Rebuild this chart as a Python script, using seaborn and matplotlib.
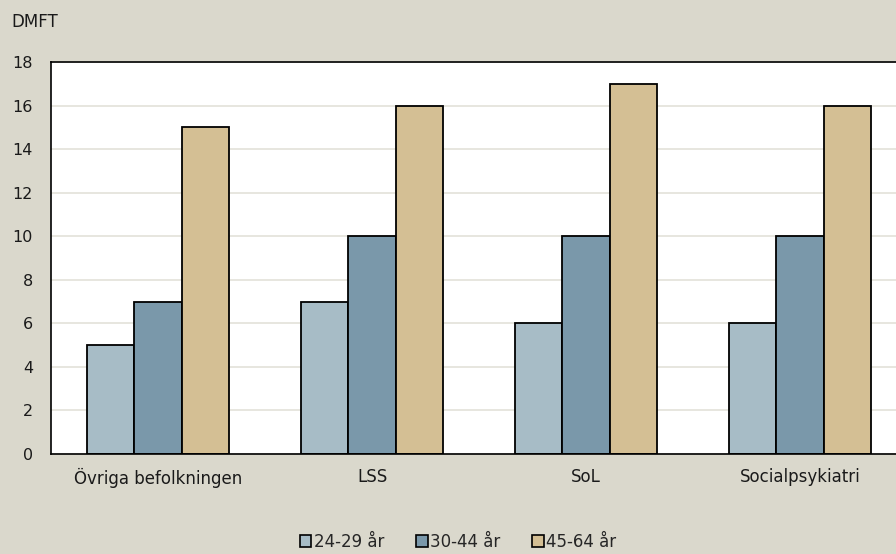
import matplotlib
matplotlib.use("Agg")
import matplotlib.pyplot as plt
from matplotlib.patches import Patch
import pandas as pd
import seaborn as sns

groups = ["Övriga befolkningen", "LSS", "SoL", "Socialpsykiatri"]
age_classes = ["24-29 år", "30-44 år", "45-64 år"]
dmft_24_29 = [5, 7, 6, 6]
dmft_30_44 = [7, 10, 10, 10]
dmft_45_64 = [15, 16, 17, 16]
y_ticks = [0, 2, 4, 6, 8, 10, 12, 14, 16, 18]

colors = ["#A7BCC6", "#7A98AA", "#D4BF94"]
bg = "#DAD8CC"

rows = []
for series, name in zip([dmft_24_29, dmft_30_44, dmft_45_64], age_classes):
    for g, v in zip(groups, series):
        rows.append({"grupp": g, "ålder": name, "DMFT": v})
df = pd.DataFrame(rows)

sns.set_theme(style="white")
plt.rcParams["font.family"] = ["DejaVu Sans"]

fig = plt.figure(figsize=(8.96, 5.54), dpi=100, facecolor=bg)
ax = fig.add_axes([51 / 896, 100 / 554, 856 / 896, 392 / 554])
ax.set_facecolor("white")

sns.barplot(data=df, x="grupp", y="DMFT", hue="ålder", order=groups,
            hue_order=age_classes, palette=colors, width=0.664, gap=0,
            edgecolor="black", linewidth=1.3, saturation=1, legend=False, ax=ax)

ax.set_xlim(-0.5, 3.5)
ax.set_ylim(0, 18)
ax.set_yticks(y_ticks)
ax.set_yticklabels([str(t) for t in y_ticks])
ax.yaxis.grid(True, color="#E3E1D9", linewidth=1.2)
ax.set_axisbelow(True)
ax.set_xlabel("")
ax.set_ylabel("")

for side in ["left", "bottom", "top", "right"]:
    ax.spines[side].set_color("black")
    ax.spines[side].set_linewidth(1.2)

ax.tick_params(axis="y", length=0, pad=13, labelsize=11.5, colors="#1a1a1a")
ax.tick_params(axis="x", which="major", length=0, pad=10, labelsize=12,
               colors="#1a1a1a")
ax.set_xticks([0.5, 1.5, 2.5], minor=True)
ax.tick_params(axis="x", which="minor", direction="in", length=4,
               width=1, color="#808080")

fig.text(11 / 896, 1 - 22 / 554, "DMFT", fontsize=12, color="#1a1a1a",
         va="center", ha="left")

handles = [Patch(facecolor=c, edgecolor="black", linewidth=1.2) for c in colors]
fig.legend(handles, age_classes, loc="center",
           bbox_to_anchor=(458 / 896, 1 - 542 / 554), ncol=3, frameon=False,
           fontsize=12, handlelength=0.7, handleheight=0.7,
           handletextpad=0.15, columnspacing=1.9)

fig.savefig("out.png", dpi=100, facecolor=bg)
